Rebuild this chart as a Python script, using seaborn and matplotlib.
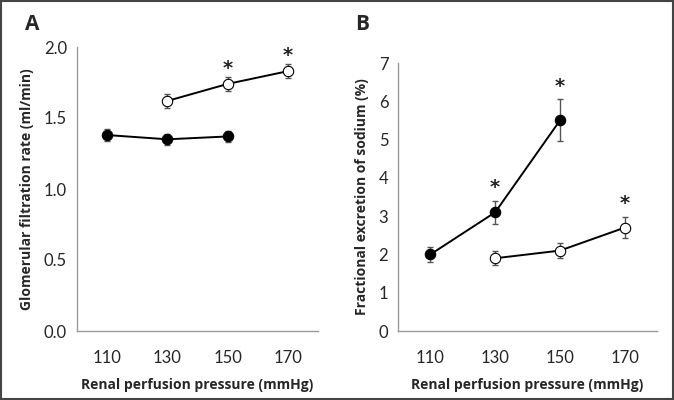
import numpy as np
import pandas as pd
import matplotlib
matplotlib.use('Agg')
import matplotlib.pyplot as plt
import seaborn as sns
from matplotlib.patches import Rectangle

# --- Data ---
pressures = ['110', '130', '150', '170']

# Panel A: glomerular filtration rate (ml/min)
gfr_filled_x = ['110', '130', '150']
gfr_filled = [1.38, 1.35, 1.37]
gfr_filled_err = [0.04, 0.04, 0.04]
gfr_open_x = ['130', '150', '170']
gfr_open = [1.62, 1.74, 1.83]
gfr_open_err = [0.05, 0.05, 0.05]
gfr_star_x = ['150', '170']

# Panel B: fractional excretion of sodium (%)
fena_filled_x = ['110', '130', '150']
fena_filled = [2.0, 3.1, 5.5]
fena_filled_err = [0.2, 0.3, 0.55]
fena_open_x = ['130', '150', '170']
fena_open = [1.9, 2.1, 2.7]
fena_open_err = [0.18, 0.2, 0.27]

sns.set_style('white')
plt.rcParams['font.family'] = ['Lato', 'DejaVu Sans']
LABEL_FONT = ['Open Sans', 'DejaVu Sans']

fig = plt.figure(figsize=(6.74, 4.0), dpi=100)
axA = fig.add_axes([0.114, 0.1725, 0.358, 0.71])
axB = fig.add_axes([0.5905, 0.1725, 0.3845, 0.67])

pos = {p: i for i, p in enumerate(pressures)}


def draw_series(ax, xs, ys, errs, face):
    df = pd.DataFrame({'x': [pos[v] for v in xs], 'y': ys})
    ax.errorbar(df['x'], df['y'], yerr=errs, fmt='none', ecolor='#555555',
                elinewidth=1, capsize=2.5, capthick=1, zorder=2)
    sns.lineplot(data=df, x='x', y='y', ax=ax, color='black', linewidth=1.4,
                 marker='o', markersize=7.5, markerfacecolor=face,
                 markeredgecolor='black', markeredgewidth=0.8, zorder=3)


def add_stars(ax, star_x, xs, ys, errs, offset):
    for sx in star_x:
        i = xs.index(sx)
        ax.text(pos[sx], ys[i] + errs[i] + offset, '*', ha='center', va='bottom',
                fontsize=14, fontweight='bold', color='#222222', family='DejaVu Sans')


def style_axis(ax, ylim, yticks, yfmt, ylabel):
    ax.set_xlim(-0.5, 3.5)
    ax.set_ylim(*ylim)
    ax.set_yticks(yticks)
    ax.set_yticklabels([yfmt.format(t) for t in yticks], fontsize=12)
    ax.set_xticks(np.arange(-0.5, 4.0, 1.0))
    ax.set_xticklabels([])
    ax.set_xticks(range(len(pressures)), minor=True)
    ax.set_xticklabels(pressures, minor=True, fontsize=12)
    ax.tick_params(axis='x', which='major', direction='out', length=5, color='#999999', width=1)
    ax.tick_params(axis='x', which='minor', length=0, pad=14)
    ax.tick_params(axis='y', direction='out', length=4, color='#999999', width=1, pad=3)
    for s in ['top', 'right']:
        ax.spines[s].set_visible(False)
    for s in ['left', 'bottom']:
        ax.spines[s].set_color('#999999')
        ax.spines[s].set_linewidth(1)
    ax.set_xlabel('Renal perfusion pressure (mmHg)', fontsize=10, fontweight='bold',
                  labelpad=8, family=LABEL_FONT)
    ax.set_ylabel(ylabel, fontsize=10, fontweight='bold', labelpad=7, family=LABEL_FONT)


draw_series(axA, gfr_filled_x, gfr_filled, gfr_filled_err, 'black')
draw_series(axA, gfr_open_x, gfr_open, gfr_open_err, 'white')
add_stars(axA, gfr_star_x, gfr_open_x, gfr_open, gfr_open_err, -0.01)
style_axis(axA, (0, 2.0), [0, 0.5, 1.0, 1.5, 2.0], '{:.1f}', 'Glomerular filtration rate (ml/min)')

draw_series(axB, fena_filled_x, fena_filled, fena_filled_err, 'black')
draw_series(axB, fena_open_x, fena_open, fena_open_err, 'white')
add_stars(axB, ['130', '150'], fena_filled_x, fena_filled, fena_filled_err, 0.1)
add_stars(axB, ['170'], fena_open_x, fena_open, fena_open_err, 0.1)
style_axis(axB, (0, 7), list(range(8)), '{:d}', 'Fractional excretion of sodium (%)')

fig.text(25 / 674, 1 - 25 / 400, 'A', fontsize=15, fontweight='bold', ha='left', va='center',
         family=LABEL_FONT)
fig.text(355 / 674, 1 - 25 / 400, 'B', fontsize=15, fontweight='bold', ha='left', va='center',
         family=LABEL_FONT)

fig.patches.append(Rectangle((0.002, 0.003), 0.996, 0.994, transform=fig.transFigure,
                             fill=False, edgecolor='#444444', linewidth=1.5))

fig.savefig('out.png', dpi=100)
